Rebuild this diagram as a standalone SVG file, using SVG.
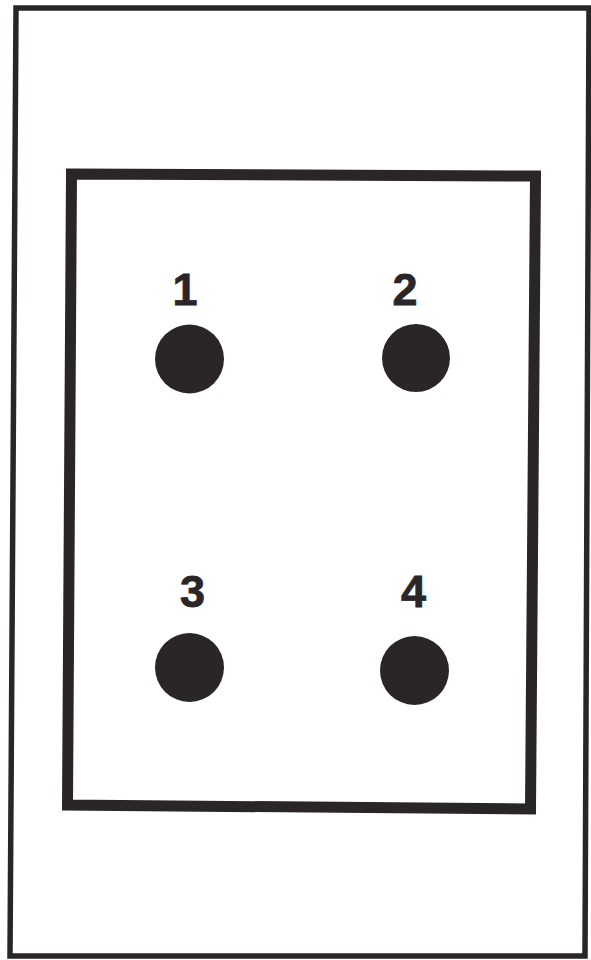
<svg xmlns="http://www.w3.org/2000/svg" width="591" height="960" viewBox="0 0 591 960">
<style>
.frame{fill:none;stroke:#2a2627;stroke-linejoin:miter}
.dot{fill:#2a2627}
.lbl{font-family:"Liberation Sans",Arial,sans-serif;font-weight:bold;font-size:45px;fill:#2a2627;stroke:#2a2627;stroke-width:0.8;text-anchor:middle}
</style>
<rect width="591" height="960" fill="#ffffff"/>
<g id="outer-frame"><polygon class="frame" stroke-width="5.5" points="16,8 589,8 585,956 10,956"/></g>
<g id="inner-frame"><polygon class="frame" stroke-width="11" points="71.5,174 535.5,176 530.5,809 67.5,805"/></g>
<g id="node1"><text class="lbl" x="185" y="305">1</text><circle class="dot" cx="189.5" cy="359" r="34.5"/></g>
<g id="node2"><text class="lbl" x="405" y="305">2</text><circle class="dot" cx="416" cy="358" r="34"/></g>
<g id="node3"><text class="lbl" x="192.5" y="607">3</text><circle class="dot" cx="189.5" cy="667.5" r="34.5"/></g>
<g id="node4"><text class="lbl" x="413.5" y="607">4</text><circle class="dot" cx="414.5" cy="670.5" r="34.5"/></g>
<g id="connectors"></g>
</svg>
